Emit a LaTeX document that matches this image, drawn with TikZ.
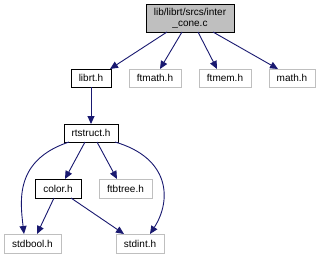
\documentclass[tikz,border=0pt]{standalone}
\usepackage{fontspec}
\setmainfont{Liberation Sans}
\usetikzlibrary{arrows.meta}
\definecolor{edgeblue}{HTML}{191970}
\definecolor{boxgray}{HTML}{BFBFBF}
\begin{document}
\begin{tikzpicture}[x=1pt,y=-1pt,
  every node/.style={font=\fontsize{10}{11}\selectfont, inner sep=0pt, outer sep=0pt, align=center},
  filebox/.style={draw=black, line width=0.9pt, minimum height=18pt},
  extbox/.style={draw=boxgray, line width=0.9pt, minimum height=18pt},
  dep/.style={draw=edgeblue, line width=0.9pt, -{Triangle[length=8pt,width=7pt]}}
]
\useasboundingbox (0,0) rectangle (320,257);

% source file
\node[filebox, fill=boxgray, minimum width=88pt, minimum height=28pt] (top) at (190,18)
  {lib/librt/srcs/inter\\\_cone.c};

% first level includes
\node[filebox, minimum width=40pt] (librt) at (91,78) {librt.h};
\node[extbox, minimum width=52pt] (ftmath) at (155,78) {ftmath.h};
\node[extbox, minimum width=52pt] (ftmem) at (225,78) {ftmem.h};
\node[extbox, minimum width=46pt] (math) at (292,78) {math.h};

% nested headers
\node[filebox, minimum width=54pt] (rtstruct) at (91,133) {rtstruct.h};
\node[filebox, minimum width=46pt, minimum height=19pt] (color) at (58,188.5) {color.h};
\node[extbox, minimum width=53pt, minimum height=19pt] (ftbtree) at (125.5,188.5) {ftbtree.h};
\node[extbox, minimum width=57pt, minimum height=19pt] (stdbool) at (32.5,243.5) {stdbool.h};
\node[extbox, minimum width=48pt, minimum height=19pt] (stdint) at (140,243.5) {stdint.h};

% include edges
\draw[dep] ([xshift=-23pt]top.south) -- ([xshift=-1pt]librt.north east);
\draw[dep] ([xshift=-8pt]top.south) -- ([xshift=5pt]ftmath.north);
\draw[dep] ([xshift=8pt]top.south) -- ([xshift=-8pt]ftmem.north);
\draw[dep] ([xshift=23pt]top.south) -- ([xshift=-14pt]math.north);
\draw[dep] (librt.south) -- (rtstruct.north);
\draw[dep] ([xshift=-22pt]rtstruct.south) .. controls (15,160) and (20,200) .. ([xshift=-8.5pt]stdbool.north);
\draw[dep] ([xshift=-6pt]rtstruct.south) -- ([xshift=7pt]color.north);
\draw[dep] ([xshift=6pt]rtstruct.south) -- ([xshift=-8.5pt]ftbtree.north);
\draw[dep] ([xshift=24pt]rtstruct.south) .. controls (170,158) and (172,200) .. ([xshift=10pt]stdint.north);
\draw[dep] ([xshift=-4pt]color.south) -- ([xshift=4.5pt]stdbool.north);
\draw[dep] ([xshift=13pt]color.south) -- ([xshift=-16pt]stdint.north);
\end{tikzpicture}
\end{document}
